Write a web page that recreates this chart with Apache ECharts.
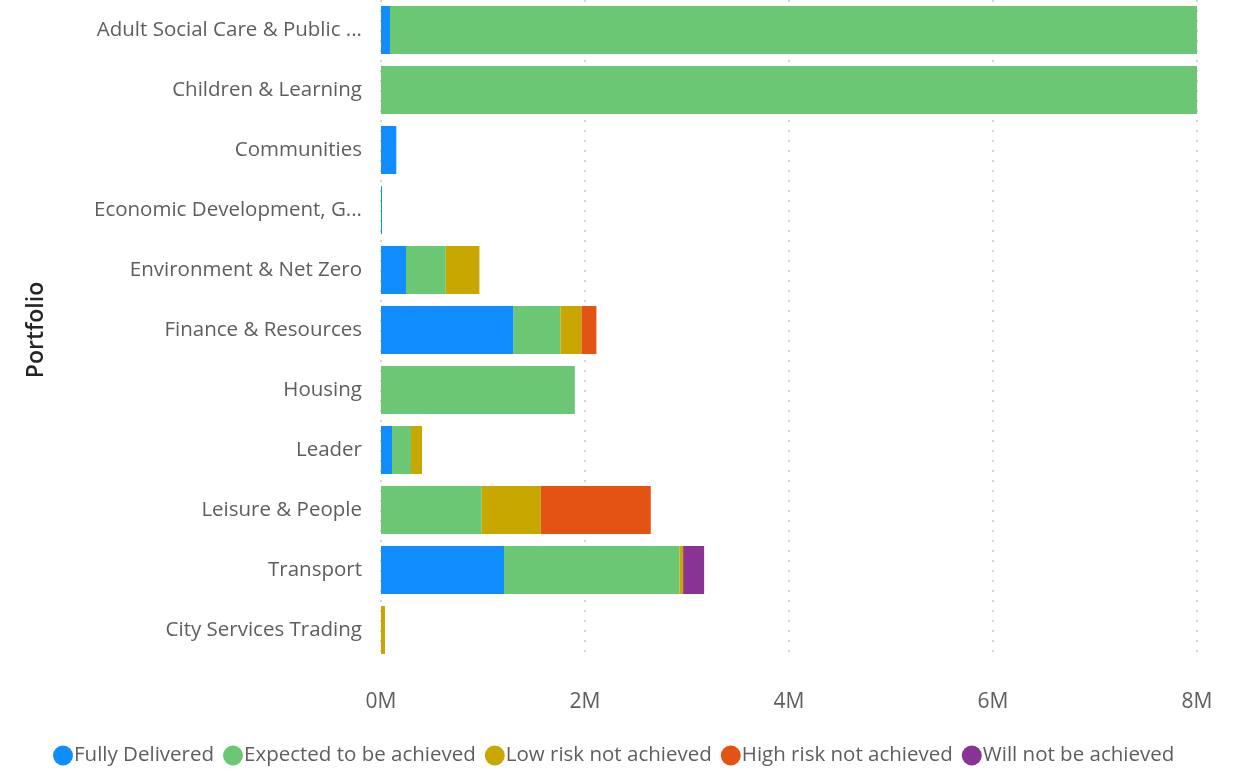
<!DOCTYPE html>
<html><head><meta charset="utf-8">
<script src="https://cdn.jsdelivr.net/npm/echarts@6/dist/echarts.min.js"></script>
<style>html,body{margin:0;padding:0;background:#fff}#c{width:1242px;height:769px}</style>
</head><body><div id="c"></div>
<script>
const categories = ["Adult Social Care & Public Health","Children & Learning","Communities","Economic Development, Growth & Regeneration","Environment & Net Zero","Finance & Resources","Housing","Leader","Leisure & People","Transport","City Services Trading"];
const seriesNames = ["Fully Delivered","Expected to be achieved","Low risk not achieved","High risk not achieved","Will not be achieved"];
const fullyDelivered = [0.088, 0, 0.15, 0.01, 0.245, 1.30, 0, 0.108, 0, 1.206, 0];
const expectedAchieved = [9.5, 9.2, 0, 0, 0.39, 0.46, 1.90, 0.186, 0.987, 1.72, 0];
const lowRisk = [0, 0, 0, 0, 0.33, 0.205, 0, 0.108, 0.58, 0.036, 0.039];
const highRisk = [0, 0, 0, 0, 0, 0.147, 0, 0, 1.078, 0, 0];
const willNot = [0, 0, 0, 0, 0, 0, 0, 0, 0, 0.206, 0];
const xTicks = [0, 2, 4, 6, 8];
const colors = ["#118DFF","#6BC773","#C8A800","#E35314","#893395"];
const values = [fullyDelivered, expectedAchieved, lowRisk, highRisk, willNot];
const FONT = "'Open Sans', sans-serif";
const chart = echarts.init(document.getElementById('c'));
chart.setOption({
  animation:false,
  color: colors,
  textStyle:{fontFamily:FONT},
  grid:{left:381,right:45,top:0,bottom:109,containLabel:false},
  legend:{bottom:-2,left:48,icon:'circle',itemWidth:20,itemHeight:20,itemGap:9,
    textStyle:{fontFamily:FONT,fontSize:20.5,color:'#605E5C',padding:[0,0,0,-4]},
    data:seriesNames},
  xAxis:{type:'value',min:0,max:xTicks[xTicks.length-1],interval:2,
    axisLine:{show:false},axisTick:{show:false},
    axisLabel:{formatter:v=>xTicks.includes(v)?v+'M':'',fontSize:21,color:'#605E5C',margin:32,fontFamily:FONT},
    splitLine:{show:true,lineStyle:{color:'#C8C6C4',width:1.5,type:[2,8]}}},
  yAxis:{type:'category',data:categories,inverse:true,
    axisLine:{show:false},axisTick:{show:false},
    name:'Portfolio',nameLocation:'middle',nameGap:333,nameRotate:90,
    nameTextStyle:{fontSize:23,fontWeight:600,color:'#252423',fontFamily:FONT},
    axisLabel:{fontSize:20.5,color:'#605E5C',margin:19,width:277,overflow:'truncate',ellipsis:'...',padding:[2,0,0,0],fontFamily:FONT}},
  series: seriesNames.map((n,i)=>({name:n,type:'bar',stack:'total',barCategoryGap:'20%',data:values[i],clip:true,itemStyle:{color:colors[i]}}))
});
</script></body></html>
